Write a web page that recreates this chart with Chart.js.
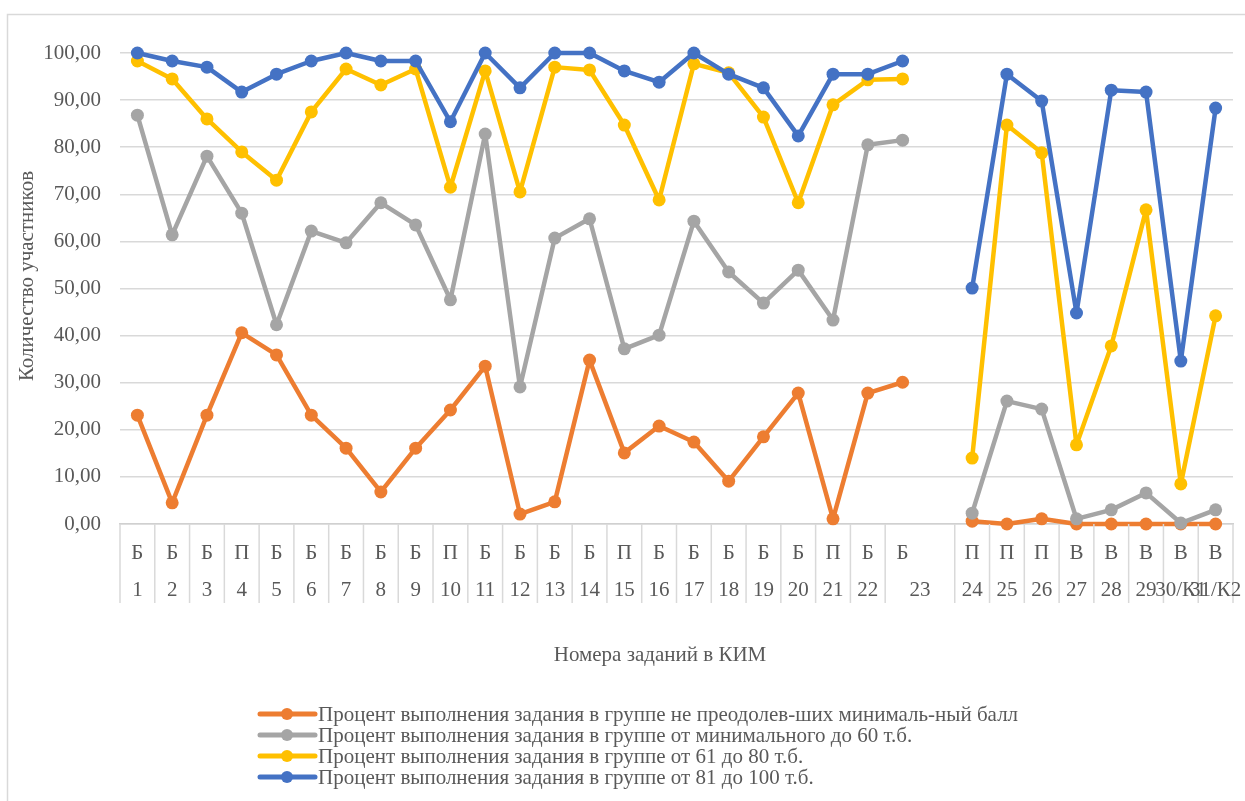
<!DOCTYPE html>
<html>
<head>
<meta charset="utf-8">
<script src="https://cdn.jsdelivr.net/npm/chart.js@4.4.1/dist/chart.umd.min.js"></script>
<style>
  html, body { margin: 0; padding: 0; background: #fff; }
  #wrap { width: 1245px; height: 801px; position: relative; }
</style>
</head>
<body>
<div id="wrap"><canvas id="kimChart" width="1245" height="801"></canvas></div>
<script>
// task type (inner level) and task number (outer level; '' continues the cell on the left)
const taskTypes = ['Б','Б','Б','П','Б','Б','Б','Б','Б','П','Б','Б','Б','Б','П','Б','Б','Б','Б','Б','П','Б','Б','',
                   'П','П','П','В','В','В','В','В'];
const taskNumbers = ['1','2','3','4','5','6','7','8','9','10','11','12','13','14','15','16','17','18','19','20','21','22','23','',
                     '24','25','26','27','28','29','30/К1','31/К2'];

const seriesNames = [
    'Процент выполнения задания в группе не преодолев-ших минималь-ный балл',
    'Процент выполнения задания в группе от минимального до 60 т.б.',
    'Процент выполнения задания в группе от 61 до 80 т.б.',
    'Процент выполнения задания в группе от 81 до 100 т.б.'
];
const seriesColors = ['#ED7D31', '#A5A5A5', '#FFC000', '#4472C4'];

const belowMin = [23.1, 4.5, 23.1, 40.6, 35.9, 23.1, 16.1, 6.8, 16.1, 24.2, 33.5, 2.1, 4.7, 34.8, 15.1, 20.8,
                  17.4, 9.1, 18.5, 27.8, 1.1, 27.8, 30.1, null, 0.6, 0, 1.1, 0, 0, 0, 0, 0];
const minTo60 = [86.8, 61.4, 78.1, 66.0, 42.3, 62.2, 59.7, 68.2, 63.5, 47.6, 82.8, 29.1, 60.7, 64.8, 37.2, 40.1,
                 64.3, 53.5, 46.9, 53.9, 43.3, 80.5, 81.5, null, 2.3, 26.1, 24.4, 1.1, 3.0, 6.6, 0.2, 3.0];
const from61to80 = [98.3, 94.5, 86.0, 79.0, 73.0, 87.5, 96.6, 93.2, 96.6, 71.5, 96.2, 70.5, 97.0, 96.4, 84.7, 68.8,
                    97.7, 95.8, 86.4, 68.2, 89.0, 94.3, 94.5, null, 14.0, 84.7, 78.8, 16.8, 37.8, 66.7, 8.5, 44.2];
const from81to100 = [100, 98.3, 97.0, 91.7, 95.5, 98.3, 100, 98.3, 98.3, 85.4, 100, 92.6, 100, 100, 96.2, 93.8,
                     100, 95.5, 92.6, 82.4, 95.5, 95.5, 98.3, null, 50.1, 95.5, 89.8, 44.8, 92.1, 91.7, 34.6, 88.3];

const yTicks = [0, 10, 20, 30, 40, 50, 60, 70, 80, 90, 100];

const textColor = '#595959';
const lineGrey = '#d9d9d9';
const serif = "'Liberation Serif', 'Times New Roman', serif";
const fontSize = 21;

const allSeries = [belowMin, minTo60, from61to80, from81to100];

// draws the frame, the two-level category table, axis titles and the legend
const extrasPlugin = {
    id: 'extras',
    beforeDraw(chart) {
        const ctx = chart.ctx;
        ctx.save();
        ctx.fillStyle = '#fff';
        ctx.fillRect(0, 0, chart.width, chart.height);
        ctx.strokeStyle = lineGrey;
        ctx.lineWidth = 1.5;
        ctx.beginPath();
        ctx.moveTo(7.5, chart.height);
        ctx.lineTo(7.5, 14.5);
        ctx.lineTo(chart.width, 14.5);
        ctx.stroke();
        ctx.restore();
    },
    afterDraw(chart) {
        const ctx = chart.ctx;
        const x = chart.scales.x;
        const area = chart.chartArea;
        const half = (x.getPixelForValue(1) - x.getPixelForValue(0)) / 2;
        const tableBottom = area.bottom + 79;

        ctx.save();
        ctx.strokeStyle = lineGrey;
        ctx.lineWidth = 1.5;
        ctx.beginPath();
        for (let i = 0; i <= taskNumbers.length; i++) {
            if (i < taskNumbers.length && taskNumbers[i] === '') continue;
            const bx = i < taskNumbers.length ? x.getPixelForValue(i) - half : x.getPixelForValue(i - 1) + half;
            ctx.moveTo(bx, area.bottom);
            ctx.lineTo(bx, tableBottom);
        }
        ctx.stroke();

        ctx.fillStyle = textColor;
        ctx.font = fontSize + 'px ' + serif;
        ctx.textAlign = 'center';
        ctx.textBaseline = 'middle';
        taskTypes.forEach((t, i) => {
            if (t) ctx.fillText(t, x.getPixelForValue(i), area.bottom + 29);
        });
        taskNumbers.forEach((n, i) => {
            if (n === '') return;
            let j = i;
            while (j + 1 < taskNumbers.length && taskNumbers[j + 1] === '') j++;
            const cx = (x.getPixelForValue(i) + x.getPixelForValue(j)) / 2;
            ctx.fillText(n, cx, area.bottom + 66);
        });

        // axis titles
        ctx.fillText('Номера заданий в КИМ', 660, 655);
        ctx.save();
        ctx.translate(27, 276);
        ctx.rotate(-Math.PI / 2);
        ctx.fillText('Количество участников', 0, 0);
        ctx.restore();

        // legend
        ctx.textAlign = 'left';
        chart.data.datasets.forEach((ds, i) => {
            const ly = 714 + i * 21;
            ctx.strokeStyle = ds.borderColor;
            ctx.lineWidth = 5;
            ctx.lineCap = 'round';
            ctx.beginPath();
            ctx.moveTo(260, ly);
            ctx.lineTo(315, ly);
            ctx.stroke();
            ctx.fillStyle = ds.borderColor;
            ctx.beginPath();
            ctx.arc(287, ly, 6, 0, Math.PI * 2);
            ctx.fill();
            ctx.fillStyle = textColor;
            ctx.fillText(ds.label, 318, ly + 1);
        });
        ctx.restore();
    }
};

new Chart(document.getElementById('kimChart'), {
    type: 'line',
    data: {
        labels: taskNumbers.map((n, i) => taskTypes[i] + ' ' + n),
        datasets: allSeries.map((values, i) => ({
            label: seriesNames[i],
            data: values,
            borderColor: seriesColors[i],
            backgroundColor: seriesColors[i],
            borderWidth: 4.5,
            borderJoinStyle: 'round',
            borderCapStyle: 'round',
            pointRadius: 6.5,
            pointHoverRadius: 6.5,
            pointBorderWidth: 0,
            spanGaps: false,
            tension: 0,
            clip: false,
            order: allSeries.length - i
        }))
    },
    options: {
        responsive: false,
        animation: false,
        layout: { padding: { top: 53, right: 12, left: 0, bottom: 0 } },
        plugins: {
            legend: { display: false },
            tooltip: { enabled: false }
        },
        scales: {
            x: {
                offset: true,
                grid: { display: false },
                ticks: { display: false },
                border: { display: true, color: '#d0d0d0', width: 1.5 },
                afterFit(scale) { scale.height = 277; }
            },
            y: {
                min: 0,
                max: 100,
                afterBuildTicks(scale) { scale.ticks = yTicks.map(v => ({ value: v })); },
                afterFit(scale) { scale.width = 120; },
                grid: { color: lineGrey, lineWidth: 1.5, drawTicks: false },
                border: { display: false },
                ticks: {
                    padding: 19,
                    color: textColor,
                    font: { family: serif, size: fontSize },
                    callback: v => v.toFixed(2).replace('.', ',')
                }
            }
        }
    },
    plugins: [extrasPlugin]
});
</script>
</body>
</html>
